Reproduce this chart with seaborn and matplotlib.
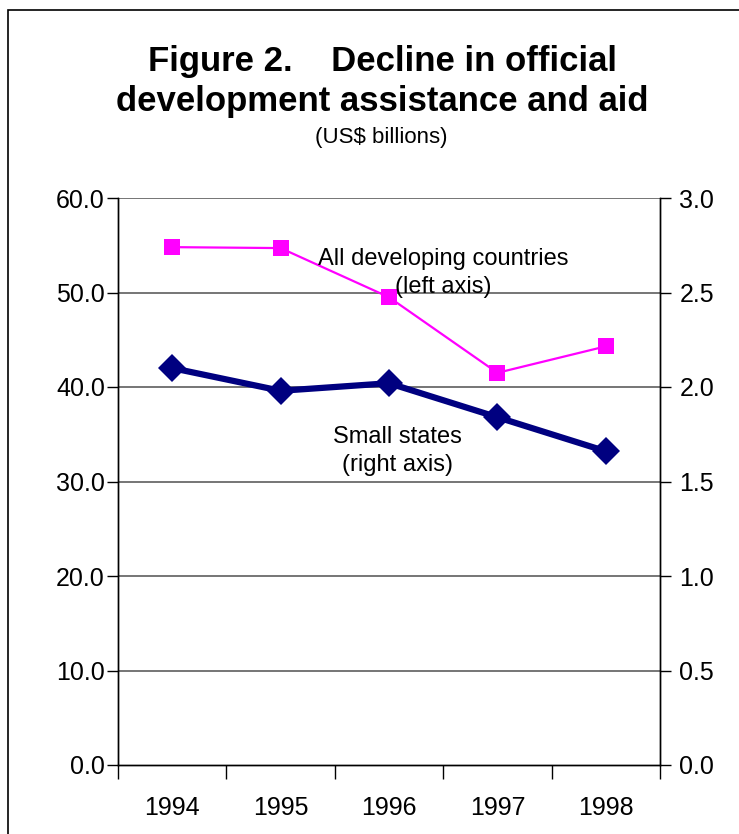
"""Figure 2: Decline in official development assistance and aid (dual axis)."""

import matplotlib
matplotlib.use("Agg")
import matplotlib.pyplot as plt
from matplotlib.patches import Rectangle
import pandas as pd
import seaborn as sns

years = [1994, 1995, 1996, 1997, 1998]
all_developing = [54.8, 54.7, 49.5, 41.5, 44.3]   # left axis, US$ billions
small_states = [2.10, 1.98, 2.02, 1.84, 1.66]      # right axis, US$ billions
left_ticks = [0, 10, 20, 30, 40, 50, 60]
right_ticks = [0.0, 0.5, 1.0, 1.5, 2.0, 2.5, 3.0]

PINK = "#FF00FF"
NAVY = "#000080"

sns.set_style("white")
plt.rcParams["font.family"] = ["Liberation Sans", "DejaVu Sans"]
plt.rcParams.update({"text.color": "black", "xtick.color": "black",
                     "ytick.color": "black", "axes.labelcolor": "black"})

df = pd.DataFrame({"year": years, "all_dev": all_developing, "small": small_states})

fig = plt.figure(figsize=(7.39, 8.34), dpi=100)
ax = fig.add_axes([118 / 739, 1 - 765 / 834, 542 / 739, 567 / 834])
ax2 = ax.twinx()

# gridlines follow the left axis
for v in left_ticks[1:]:
    ax.axhline(v, color="#505050", lw=1.1, zorder=0)

sns.lineplot(data=df, x="year", y="all_dev", ax=ax, color=PINK, lw=1.6,
             marker="s", markersize=12, markeredgewidth=0, zorder=3)
sns.lineplot(data=df, x="year", y="small", ax=ax2, color=NAVY, lw=4.5,
             marker="D", markersize=14, markeredgewidth=0, zorder=3)

for a in (ax, ax2):
    a.set_xlim(years[0] - 0.5, years[-1] + 0.5)
    a.set_xlabel("")
    a.set_ylabel("")
    a.spines["top"].set_visible(False)
    for s in ("left", "right", "bottom"):
        a.spines[s].set_color("black")
        a.spines[s].set_linewidth(1.0)

ax.set_ylim(0, 60)
ax2.set_ylim(0, 3)
ax.set_yticks(left_ticks)
ax.set_yticklabels([f"{v:.1f}" for v in left_ticks], fontsize=18)
ax2.set_yticks(right_ticks)
ax2.set_yticklabels([f"{v:.1f}" for v in right_ticks], fontsize=18)
ax.tick_params(axis="y", direction="out", length=8, width=1, pad=1.5, left=True)
ax2.tick_params(axis="y", direction="out", length=8, width=1, pad=6, right=True)

ax.set_xticks(years)
ax.set_xticklabels([str(y) for y in years], fontsize=18)
ax.set_xticks([y - 0.5 for y in years] + [years[-1] + 0.5], minor=True)
ax.tick_params(axis="x", which="major", length=0, pad=22)
ax.tick_params(axis="x", which="minor", direction="out", length=10, width=1,
               bottom=True)
ax2.tick_params(axis="x", which="both", length=0)

ax.text(1996.5, 52.1, "All developing countries\n(left axis)", ha="center",
        va="center", fontsize=17, linespacing=1.35, zorder=5)
ax2.text(1996.08, 1.66, "Small states\n(right axis)", ha="center",
         va="center", fontsize=17, linespacing=1.35, zorder=5)

fig.text(382 / 739, 1 - 62 / 834, "Figure 2.    Decline in official",
         ha="center", va="center", fontsize=25, fontweight="bold")
fig.text(382 / 739, 1 - 102 / 834, "development assistance and aid",
         ha="center", va="center", fontsize=25, fontweight="bold")
fig.text(381 / 739, 1 - 138 / 834, "(US$ billions)",
         ha="center", va="center", fontsize=16)

# outer frame (only left and top edges fall inside the picture)
fig.add_artist(Rectangle((8 / 739, -0.2), 2, 1.2 - 10 / 834, transform=fig.transFigure,
                         fill=False, edgecolor="black", lw=1.2))

fig.savefig("out.png", dpi=100)
plt.close(fig)
